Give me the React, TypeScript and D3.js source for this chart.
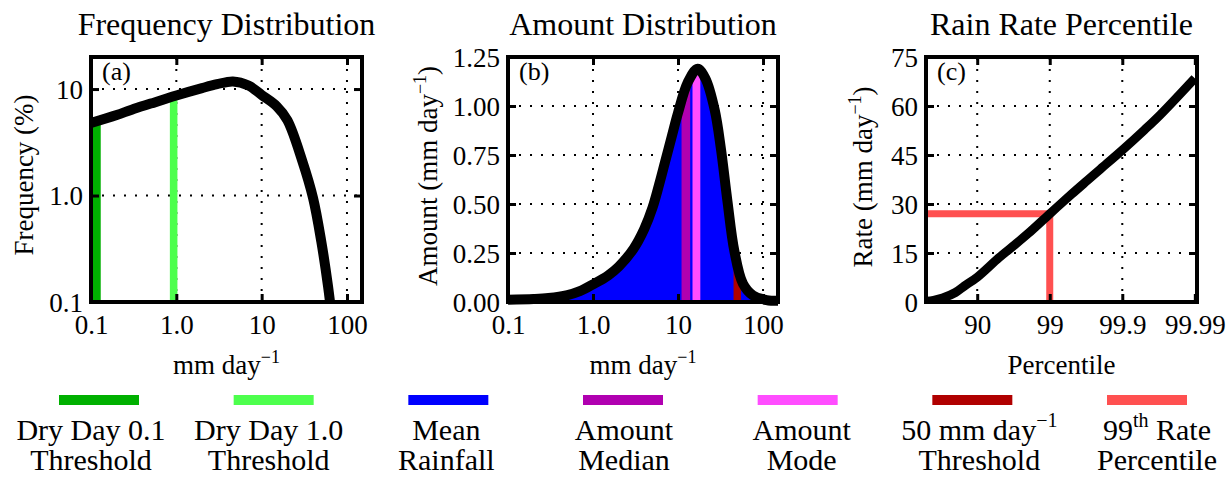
import React, { useEffect, useRef } from "react"
import * as d3 from "d3"

const W = 1228
const H = 477
const SERIF = '"Liberation Serif", "Times New Roman", Times, serif'

// (a) frequency distribution: rain rate (mm/day) vs frequency (%)
const freqRate = [0.1, 0.2, 0.3, 0.5, 1, 2, 3, 4.6, 7, 10, 15, 20, 30, 40, 50, 60, 70]
const freqPct = [4.8, 5.7, 6.4, 7.3, 8.7, 10.2, 11.1, 11.8, 10.8, 8.8, 6.9, 5.1, 2.1, 0.95, 0.37, 0.14, 0.05]
const dryDay01Bin = [0.1, 0.13]
const dryDay10Bin = [0.84, 1.03]

// (b) amount distribution: rain rate (mm/day) vs amount (mm/day)
const amtRate = [0.1, 0.2, 0.3, 0.5, 0.7, 1, 1.5, 2, 3, 4, 5, 6, 7, 8.5, 10, 13, 17, 21, 27, 32, 38, 46, 58, 76, 110, 150]
const amtValue = [0.012, 0.015, 0.02, 0.035, 0.055, 0.09, 0.135, 0.18, 0.272, 0.372, 0.48, 0.6, 0.71, 0.85, 0.965, 1.12, 1.19, 1.14, 0.98, 0.78, 0.52, 0.26, 0.094, 0.034, 0.01, 0.006]
const medianBin = [11.0, 13.9]
const modeBin = [14.8, 18.3]
const heavyBin = [45, 55]

// (c) rain rate percentile
const pctLevel = [50, 60, 70, 80, 85, 90, 95, 97, 98, 99, 99.5, 99.7, 99.8, 99.9, 99.95, 99.97, 99.99]
const pctRate = [0.2, 0.5, 1.2, 2.9, 4.9, 7.6, 13.6, 17.6, 20.9, 27, 33, 37.3, 40.7, 46.5, 52.6, 57.3, 68.5]
const p99Level = 99
const p99Rate = 27

// ticks
const logTicks = [0.1, 1, 10, 100]
const logTickLabels = ["0.1", "1.0", "10", "100"]
const freqTicks = [0.1, 1, 10]
const freqTickLabels = ["0.1", "1.0", "10"]
const amtTicks = [0, 0.25, 0.5, 0.75, 1, 1.25]
const pctTicks = [90, 99, 99.9, 99.99]
const pctTickLabels = ["90", "99", "99.9", "99.99"]
const rateTicks = [0, 15, 30, 45, 60, 75]

// legend
const legendColors = ["#00b000", "#4dff4d", "#0000ff", "#b000b0", "#ff4dff", "#b00000", "#ff5050"]
const legendLine1 = [
	[["Dry Day 0.1", false]],
	[["Dry Day 1.0", false]],
	[["Mean", false]],
	[["Amount", false]],
	[["Amount", false]],
	[["50 mm day", false], ["\u22121", true]],
	[["99", false], ["th", true], [" Rate", false]],
]
const legendLine2 = ["Threshold", "Threshold", "Rainfall", "Median", "Mode", "Threshold", "Percentile"]

const TOP = 57
const BOTTOM = 302
const prob = (p: number) => -Math.log10(1 - p / 100)
const smooth = d3.curveCatmullRom.alpha(0.5)

function richText(sel: any, parts: any[], size: number, supSize: number, shift: number) {
	parts.forEach(([t, sup]: any, i: number) => {
		const prevSup = i > 0 && parts[i - 1][1]
		const dy = sup ? -shift : prevSup ? shift : 0
		sel.append("tspan").attr("font-size", sup ? supSize : size).attr("dy", dy).text(t)
	})
}

function drawGrid(g: any, x: any, y: any, xg: number[], yg: number[]) {
	const [x0, x1] = x.range()
	const grid = g.append("g").attr("stroke", "#000").attr("stroke-width", 2).attr("stroke-dasharray", "2 9")
	grid.selectAll(".gx").data(xg).join("line").attr("x1", (d: number) => x(d)).attr("x2", (d: number) => x(d)).attr("y1", BOTTOM).attr("y2", TOP)
	grid.selectAll(".gy").data(yg).join("line").attr("y1", (d: number) => y(d)).attr("y2", (d: number) => y(d)).attr("x1", x0).attr("x2", x1)
}

function drawFrame(g: any, x: any, y: any, o: any) {
	const [x0, x1] = x.range()
	const fmtX = (d: any, i: number) => o.xLabels[i]
	const fmtY = (d: any, i: number) => o.yLabels[i]

	const bottom = g.append("g").attr("transform", `translate(0,${BOTTOM})`)
		.call(d3.axisBottom(x).tickValues(o.xTicks).tickFormat(fmtX).tickSize(-8).tickPadding(13))
	const top = g.append("g").attr("transform", `translate(0,${TOP})`)
		.call(d3.axisTop(x).tickValues(o.xTicks).tickFormat(() => "").tickSize(-8))
	const left = g.append("g").attr("transform", `translate(${x0},0)`)
		.call(d3.axisLeft(y).tickValues(o.yTicks).tickFormat(fmtY).tickSize(-8).tickPadding(8))
	const right = g.append("g").attr("transform", `translate(${x1},0)`)
		.call(d3.axisRight(y).tickValues(o.yTicks).tickFormat(() => "").tickSize(-8))

	for (const a of [bottom, top, left, right]) {
		a.select(".domain").remove()
		a.selectAll("line").attr("stroke", "#000").attr("stroke-width", 3)
		a.selectAll("text").attr("font-family", SERIF).attr("font-size", 27).attr("fill", "#000")
	}
	left.selectAll("text").attr("dy", "0.34em")

	g.append("rect")
		.attr("x", x0).attr("y", TOP).attr("width", x1 - x0).attr("height", BOTTOM - TOP)
		.attr("fill", "none").attr("stroke", "#000").attr("stroke-width", 4)

	const cx = (x0 + x1) / 2
	g.append("text").attr("x", cx).attr("y", 35).attr("text-anchor", "middle").attr("font-size", 32).text(o.title)
	g.append("text").attr("x", x0 + 11).attr("y", TOP + 23).attr("font-size", 26).text(o.letter)

	const xl = g.append("text").attr("x", cx).attr("y", 374).attr("text-anchor", "middle")
	richText(xl, o.xTitle, 27, 18, 11)

	const yl = g.append("text").attr("transform", `translate(${o.yTitleX},${o.yTitleY}) rotate(-90)`).attr("text-anchor", "middle")
	richText(yl, o.yTitle, 27, 18, 11)
}

function draw(svg: any) {
	const mmDay = [["mm day", false], ["\u22121", true]]

	// ---- (a) ----
	const xa = d3.scaleLog().domain([0.1, 150]).range([91, 362])
	const ya = d3.scaleLog().domain([0.1, 20]).range([BOTTOM, TOP])
	const ga = svg.append("g")
	drawGrid(ga, xa, ya, [1, 10, 100], [1, 10])
	const freqPts: [number, number][] = freqRate.map((r, i) => [xa(r), ya(freqPct[i])])
	svg.append("clipPath").attr("id", "clipA").append("rect").attr("x", 91).attr("y", TOP).attr("width", 271).attr("height", BOTTOM - TOP)
	svg.append("clipPath").attr("id", "areaA").append("path")
		.attr("d", d3.area().x((d: any) => d[0]).y0(BOTTOM).y1((d: any) => d[1]).curve(smooth)(freqPts))
	const bandsA = ga.append("g").attr("clip-path", "url(#clipA)").append("g").attr("clip-path", "url(#areaA)")
	bandsA.selectAll("rect").data([dryDay01Bin, dryDay10Bin]).join("rect")
		.attr("x", (d: number[]) => xa(d[0])).attr("width", (d: number[]) => xa(d[1]) - xa(d[0]))
		.attr("y", TOP).attr("height", BOTTOM - TOP)
		.attr("fill", (d: any, i: number) => legendColors[i])
	ga.append("path").attr("clip-path", "url(#clipA)")
		.attr("d", d3.line().curve(smooth)(freqPts))
		.attr("fill", "none").attr("stroke", "#000").attr("stroke-width", 10).attr("stroke-linejoin", "round")
	drawFrame(ga, xa, ya, {
		xTicks: logTicks, xLabels: logTickLabels, yTicks: freqTicks, yLabels: freqTickLabels,
		title: "Frequency Distribution", letter: "(a)", xTitle: mmDay,
		yTitle: [["Frequency (%)", false]], yTitleX: 33, yTitleY: 175,
	})

	// ---- (b) ----
	const xb = d3.scaleLog().domain([0.1, 150]).range([508, 778])
	const yb = d3.scaleLinear().domain([0, 1.25]).range([BOTTOM, TOP])
	const gb = svg.append("g")
	drawGrid(gb, xb, yb, [1, 10, 100], [0.25, 0.5, 0.75, 1])
	const amtPts: [number, number][] = amtRate.map((r, i) => [xb(r), yb(amtValue[i])])
	const areaB = d3.area().x((d: any) => d[0]).y0(BOTTOM).y1((d: any) => d[1]).curve(smooth)(amtPts)
	svg.append("clipPath").attr("id", "areaB").append("path").attr("d", areaB)
	gb.append("path").attr("d", areaB).attr("fill", legendColors[2])
	gb.append("g").attr("clip-path", "url(#areaB)").selectAll("rect")
		.data([medianBin, modeBin, heavyBin]).join("rect")
		.attr("x", (d: number[]) => xb(d[0])).attr("width", (d: number[]) => xb(d[1]) - xb(d[0]))
		.attr("y", TOP).attr("height", BOTTOM - TOP)
		.attr("fill", (d: any, i: number) => legendColors[i + 3])
	gb.append("path")
		.attr("d", d3.line().curve(smooth)(amtPts))
		.attr("fill", "none").attr("stroke", "#000").attr("stroke-width", 10).attr("stroke-linejoin", "round")
	drawFrame(gb, xb, yb, {
		xTicks: logTicks, xLabels: logTickLabels, yTicks: amtTicks, yLabels: amtTicks.map(d => d.toFixed(2)),
		title: "Amount Distribution", letter: "(b)", xTitle: mmDay,
		yTitle: [["Amount (mm day", false], ["\u22121", true], [")", false]], yTitleX: 437, yTitleY: 176,
	})

	// ---- (c) ----
	const xc = d3.scaleLinear().domain([0.294, 4.03]).range([926, 1197])
	const yc = d3.scaleLinear().domain([0, 75]).range([BOTTOM, TOP])
	const gc = svg.append("g")
	drawGrid(gc, xc, yc, [90, 99, 99.9].map(prob), [15, 30, 45, 60])
	svg.append("clipPath").attr("id", "clipC").append("rect").attr("x", 926).attr("y", TOP).attr("width", 271).attr("height", BOTTOM - TOP)
	gc.append("path").attr("clip-path", "url(#clipC)")
		.attr("d", d3.line()([[xc.domain()[0], p99Rate], [prob(p99Level), p99Rate], [prob(p99Level), 0]].map(d => [xc(d[0]), yc(d[1])]) as any))
		.attr("fill", "none").attr("stroke", legendColors[6]).attr("stroke-width", 7).attr("stroke-linejoin", "miter")
	gc.append("path").attr("clip-path", "url(#clipC)")
		.attr("d", d3.line().curve(smooth)(pctLevel.map((p, i) => [xc(prob(p)), yc(pctRate[i])])))
		.attr("fill", "none").attr("stroke", "#000").attr("stroke-width", 9).attr("stroke-linejoin", "round")
	drawFrame(gc, xc, yc, {
		xTicks: pctTicks.map(prob), xLabels: pctTickLabels, yTicks: rateTicks, yLabels: rateTicks.map(String),
		title: "Rain Rate Percentile", letter: "(c)", xTitle: [["Percentile", false]],
		yTitle: [["Rate (mm day", false], ["\u22121", true], [")", false]], yTitleX: 872, yTitleY: 177,
	})

	// ---- legend ----
	const idx = d3.range(legendColors.length)
	const barX = d3.scalePoint<number>().domain(idx).range([99, 1147])
	const textX = d3.scalePoint<number>().domain(idx).range([91, 1157])
	const lg = svg.append("g")
	lg.selectAll("rect").data(idx).join("rect")
		.attr("x", (i: number) => (barX(i) as number) - 40).attr("y", 395).attr("width", 80).attr("height", 10)
		.attr("fill", (i: number) => legendColors[i])
	idx.forEach(i => {
		const t1 = lg.append("text").attr("x", textX(i)).attr("y", 440).attr("text-anchor", "middle")
		richText(t1, legendLine1[i], 30, 20, 13)
		lg.append("text").attr("x", textX(i)).attr("y", 470).attr("text-anchor", "middle").attr("font-size", 30).text(legendLine2[i])
	})
}

export default function App() {
	const ref = useRef<SVGSVGElement>(null)
	useEffect(() => {
		const svg = d3.select(ref.current)
		svg.selectAll("*").remove()
		draw(svg)
	}, [])
	return (
		<svg
			ref={ref}
			width={W}
			height={H}
			fontFamily={SERIF}
			style={{ position: "absolute", left: 0, top: 0, background: "#fff" }}
		/>
	)
}
